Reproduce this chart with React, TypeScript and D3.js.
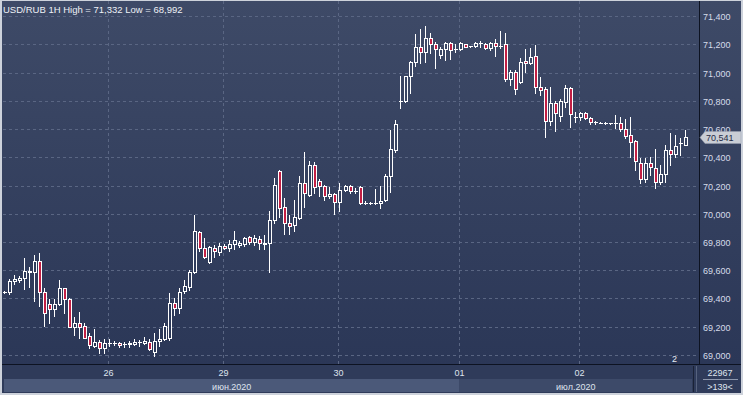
import React from "react";
import * as d3 from "d3";

// USD/RUB hourly candles, 25.06.2020 - 02.07.2020
const opens = [
  69.444, 69.448, 69.524, 69.533, 69.543, 69.585, 69.588, 69.665, 69.444, 69.359,
  69.328, 69.359, 69.472, 69.399, 69.200, 69.229, 69.205, 69.137, 69.064, 69.094,
  69.047, 69.087, 69.085, 69.083, 69.076, 69.076, 69.080, 69.090, 69.087, 69.094,
  69.023, 69.099, 69.113, 69.123, 69.366, 69.331, 69.453, 69.484, 69.585, 69.869,
  69.755, 69.661, 69.760, 69.731, 69.774, 69.760, 69.784, 69.777, 69.788, 69.833,
  69.802, 69.823, 69.790, 69.795, 69.956, 70.303, 70.046, 69.932, 69.920, 69.972,
  70.216, 70.133, 70.345, 70.234, 70.196, 70.126, 70.140, 70.081, 70.168, 70.196,
  70.163, 70.187, 70.078, 70.074, 70.078, 70.078, 70.097, 70.267, 70.451, 70.800,
  70.800, 70.975, 71.072, 71.178, 71.143, 71.242, 71.200, 71.124, 71.164, 71.207,
  71.164, 71.164, 71.200, 71.188, 71.188, 71.207, 71.200, 71.171, 71.207, 71.190,
  71.200, 70.954, 71.006, 70.935, 71.081, 71.065, 71.117, 70.895, 70.883, 70.659,
  70.782, 70.694, 70.789, 70.888, 70.687, 70.687, 70.711, 70.680, 70.647, 70.645,
  70.642, 70.640, 70.640, 70.640, 70.600, 70.558, 70.515, 70.361, 70.244, 70.361,
  70.322, 70.227, 70.281, 70.451, 70.421, 70.499, 70.487,
];
const highs = [
  69.453, 69.540, 69.564, 69.561, 69.685, 69.623, 69.706, 69.722, 69.472, 69.396,
  69.396, 69.531, 69.474, 69.406, 69.271, 69.302, 69.229, 69.158, 69.182, 69.106,
  69.111, 69.111, 69.101, 69.094, 69.092, 69.101, 69.111, 69.106, 69.130, 69.111,
  69.158, 69.182, 69.229, 69.437, 69.401, 69.474, 69.531, 69.602, 69.991, 69.878,
  69.826, 69.772, 69.779, 69.795, 69.786, 69.814, 69.878, 69.807, 69.838, 69.845,
  69.850, 69.842, 69.850, 70.019, 70.251, 70.310, 70.109, 69.991, 70.097, 70.267,
  70.435, 70.373, 70.364, 70.244, 70.204, 70.192, 70.149, 70.216, 70.204, 70.204,
  70.180, 70.196, 70.090, 70.080, 70.175, 70.199, 70.281, 70.593, 70.664, 70.975,
  70.977, 71.081, 71.273, 71.306, 71.332, 71.278, 71.218, 71.178, 71.218, 71.218,
  71.202, 71.214, 71.202, 71.191, 71.218, 71.223, 71.211, 71.218, 71.237, 71.294,
  71.278, 71.018, 71.018, 71.105, 71.164, 71.171, 71.195, 70.970, 70.895, 70.895,
  70.798, 70.812, 70.912, 70.899, 70.722, 70.722, 70.722, 70.687, 70.654, 70.650,
  70.650, 70.646, 70.699, 70.687, 70.671, 70.687, 70.522, 70.397, 70.393, 70.404,
  70.458, 70.345, 70.487, 70.570, 70.558, 70.534, 70.593,
];
const lows = [
  69.439, 69.432, 69.501, 69.519, 69.465, 69.484, 69.382, 69.349, 69.207, 69.224,
  69.278, 69.354, 69.295, 69.198, 69.144, 69.123, 69.120, 69.052, 69.059, 69.012,
  69.012, 69.064, 69.069, 69.059, 69.059, 69.059, 69.069, 69.064, 69.076, 69.038,
  68.992, 69.066, 69.106, 69.106, 69.283, 69.297, 69.439, 69.460, 69.584, 69.736,
  69.689, 69.649, 69.696, 69.708, 69.748, 69.736, 69.748, 69.767, 69.772, 69.784,
  69.779, 69.748, 69.748, 69.590, 69.932, 69.979, 69.855, 69.855, 69.878, 69.963,
  70.050, 70.128, 70.145, 70.126, 70.097, 70.114, 69.996, 70.019, 70.163, 70.149,
  70.149, 70.072, 70.069, 70.069, 70.067, 70.039, 70.090, 70.156, 70.437, 70.747,
  70.793, 70.857, 71.046, 71.065, 71.076, 71.136, 71.030, 71.101, 71.089, 71.093,
  71.147, 71.159, 71.181, 71.184, 71.183, 71.183, 71.164, 71.159, 71.117, 71.171,
  70.940, 70.912, 70.848, 70.928, 71.006, 71.058, 70.853, 70.841, 70.546, 70.628,
  70.586, 70.659, 70.758, 70.616, 70.652, 70.664, 70.671, 70.633, 70.633, 70.639,
  70.635, 70.635, 70.605, 70.588, 70.534, 70.404, 70.310, 70.216, 70.223, 70.274,
  70.180, 70.208, 70.227, 70.345, 70.404, 70.416, 70.485,
];
const closes = [
  69.444, 69.524, 69.540, 69.545, 69.595, 69.593, 69.665, 69.444, 69.295, 69.324,
  69.359, 69.472, 69.394, 69.200, 69.229, 69.200, 69.123, 69.071, 69.094, 69.047,
  69.087, 69.088, 69.085, 69.069, 69.076, 69.087, 69.094, 69.090, 69.099, 69.040,
  69.099, 69.113, 69.205, 69.366, 69.331, 69.448, 69.492, 69.585, 69.878, 69.755,
  69.696, 69.765, 69.736, 69.772, 69.760, 69.784, 69.812, 69.795, 69.830, 69.802,
  69.826, 69.795, 69.789, 69.956, 70.204, 70.043, 69.932, 69.913, 69.979, 70.216,
  70.145, 70.345, 70.187, 70.196, 70.126, 70.140, 70.085, 70.168, 70.196, 70.163,
  70.163, 70.074, 70.078, 70.074, 70.078, 70.092, 70.269, 70.456, 70.635, 70.800,
  70.975, 71.072, 71.178, 71.147, 71.242, 71.200, 71.164, 71.164, 71.207, 71.159,
  71.164, 71.207, 71.183, 71.188, 71.207, 71.207, 71.171, 71.211, 71.190, 71.190,
  70.954, 71.006, 70.881, 71.076, 71.065, 71.112, 70.894, 70.876, 70.659, 70.782,
  70.711, 70.798, 70.888, 70.704, 70.687, 70.711, 70.680, 70.647, 70.647, 70.645,
  70.642, 70.640, 70.640, 70.598, 70.550, 70.510, 70.376, 70.244, 70.361, 70.329,
  70.227, 70.281, 70.451, 70.421, 70.482, 70.499, 70.541,
];

const yTicks = [69.0, 69.2, 69.4, 69.6, 69.8, 70.0, 70.2, 70.4, 70.6, 70.8, 71.0, 71.2, 71.4];
const dayLabels = ["26", "29", "30", "01", "02"];
const dayStarts = [21, 44, 67, 91, 115];
const monthLabels = ["июн.2020", "июл.2020"];
const monthStarts = [0, 91];
const title = "USD/RUB 1H High = 71,332 Low = 68,992";
const lastPrice = 70.541;
const volumeText = "22967";
const barsText = ">139<";
const cornerText = "2";

const W = 743, H = 395;
const plotL = 3, plotR = 699, plotT = 1, plotB = 364;
const font = "'Liberation Sans', Arial, sans-serif";
const fmt = (v: number) => v.toFixed(3).replace(".", ",");

export default function App() {
  const n = opens.length;
  const x = d3.scaleLinear().domain([0, n - 1]).range([4, 685]);
  const y = d3.scaleLinear().domain([69.0, 71.4]).range([355, 16]);
  const gridX = (i: number) => Math.round(x(i)) - 1 + 0.5;
  const monthEdges = [plotL + 1, ...monthStarts.slice(1).map(gridX), 692];

  const candles = d3.range(n).map(i => {
    const o = opens[i], c = closes[i];
    const cx = Math.round(x(i));
    const top = Math.round(y(Math.max(o, c)));
    const bot = Math.round(y(Math.min(o, c)));
    return { i, cx, top, bot, hi: Math.round(y(highs[i])), lo: Math.round(y(lows[i])), bear: c < o };
  });

  const py = Math.round(y(lastPrice));

  return (
    <svg width={W} height={H} style={{ position: "absolute", left: 0, top: 0 }} fontFamily={font}>
      <defs>
        <linearGradient id="bg" gradientUnits="userSpaceOnUse" x1="0" y1="0" x2="0" y2={plotB}>
          <stop offset="0" stopColor="#3e4a67" />
          <stop offset="1" stopColor="#2b3757" />
        </linearGradient>
        <clipPath id="plotClip">
          <rect x={plotL} y={plotT} width={plotR - plotL} height={plotB - plotT} />
        </clipPath>
      </defs>

      <rect width={W} height={H} fill="#cdd2db" />
      <rect x={plotL - 1} y={plotT} width={741 - plotL + 1} height={392} fill="url(#bg)" />

      {/* grid */}
      <g stroke="#5a6683" strokeWidth={1} strokeDasharray="3,3" shapeRendering="crispEdges">
        {yTicks.map(t => (
          <line key={t} x1={plotL} x2={plotR} y1={Math.round(y(t)) + 0.5} y2={Math.round(y(t)) + 0.5} />
        ))}
        {dayStarts.map(d => (
          <line key={d} x1={gridX(d)} x2={gridX(d)} y1={plotT} y2={plotB} />
        ))}
      </g>

      {/* candles */}
      <g clipPath="url(#plotClip)" shapeRendering="crispEdges">
        {candles.map(k => (
          <g key={k.i}>
            <line x1={k.cx + 0.5} x2={k.cx + 0.5} y1={k.hi} y2={k.lo + 1} stroke="#ffffff" />
            {k.bot - k.top < 1 ? (
              <rect x={k.cx - 1.5} y={k.top - 0.5} width={4} height={1} fill="#ffffff" />
            ) : (
              <rect x={k.cx - 1} y={k.top + 0.5} width={3} height={k.bot - k.top}
                fill={k.bear ? "#c21f44" : "url(#bg)"} stroke="#ffffff" strokeWidth={1} />
            )}
          </g>
        ))}
      </g>

      <text x={3} y={13} fontSize={9.5} fill="#eef1f6">{title}</text>
      <text x={672} y={362} fontSize={9} fill="#e8ecf3">{cornerText}</text>

      {/* right axis */}
      <line x1={plotR + 0.5} x2={plotR + 0.5} y1={plotT} y2={plotB} stroke="#0d1322" />
      {yTicks.map(t => (
        <text key={t} x={703} y={Math.round(y(t)) + 3.5} fontSize={9} fill="#d6dcea">{fmt(t)}</text>
      ))}
      <path d={`M${plotR + 1},${py + 0.5} L${705},${py - 5.5} L741,${py - 5.5} L741,${py + 6.5} L705,${py + 6.5} Z`}
        fill="#c9cdd5" stroke="#9aa1b0" strokeWidth={0.5} />
      <text x={706} y={py + 4} fontSize={9} fill="#1f2a44">{fmt(lastPrice)}</text>

      {/* bottom axis */}
      <rect x={plotL - 1} y={plotB} width={741 - plotL + 1} height={393 - plotB} fill="#2f3b5a" />
      <line x1={plotL - 1} x2={741} y1={plotB + 0.5} y2={plotB + 0.5} stroke="#0d1322" />
      {monthLabels.map((m, i) => (
        <rect key={m} x={monthEdges[i]} y={379} width={monthEdges[i + 1] - monthEdges[i]} height={13}
          fill={i === 0 ? "#4b5979" : "#3d4a69"} />
      ))}
      {dayLabels.map((d, i) => (
        <text key={d} x={gridX(dayStarts[i])} y={376} fontSize={9} fill="#dfe4ee" textAnchor="middle">{d}</text>
      ))}
      {monthLabels.map((m, i) => (
        <text key={m} x={(monthEdges[i] + monthEdges[i + 1]) / 2} y={390} fontSize={9} fill="#dfe4ee" textAnchor="middle">{m}</text>
      ))}
      <line x1={693.5} x2={693.5} y1={plotB + 2} y2={392} stroke="#1a2236" />
      <line x1={696.5} x2={696.5} y1={plotB + 2} y2={392} stroke="#56627e" />
      <text x={720} y={376} fontSize={9} fill="#dfe4ee" textAnchor="middle">{volumeText}</text>
      <line x1={703} x2={738} y1={379.5} y2={379.5} stroke="#8e98ae" />
      <text x={720} y={390} fontSize={9} fill="#dfe4ee" textAnchor="middle">{barsText}</text>
    </svg>
  );
}
